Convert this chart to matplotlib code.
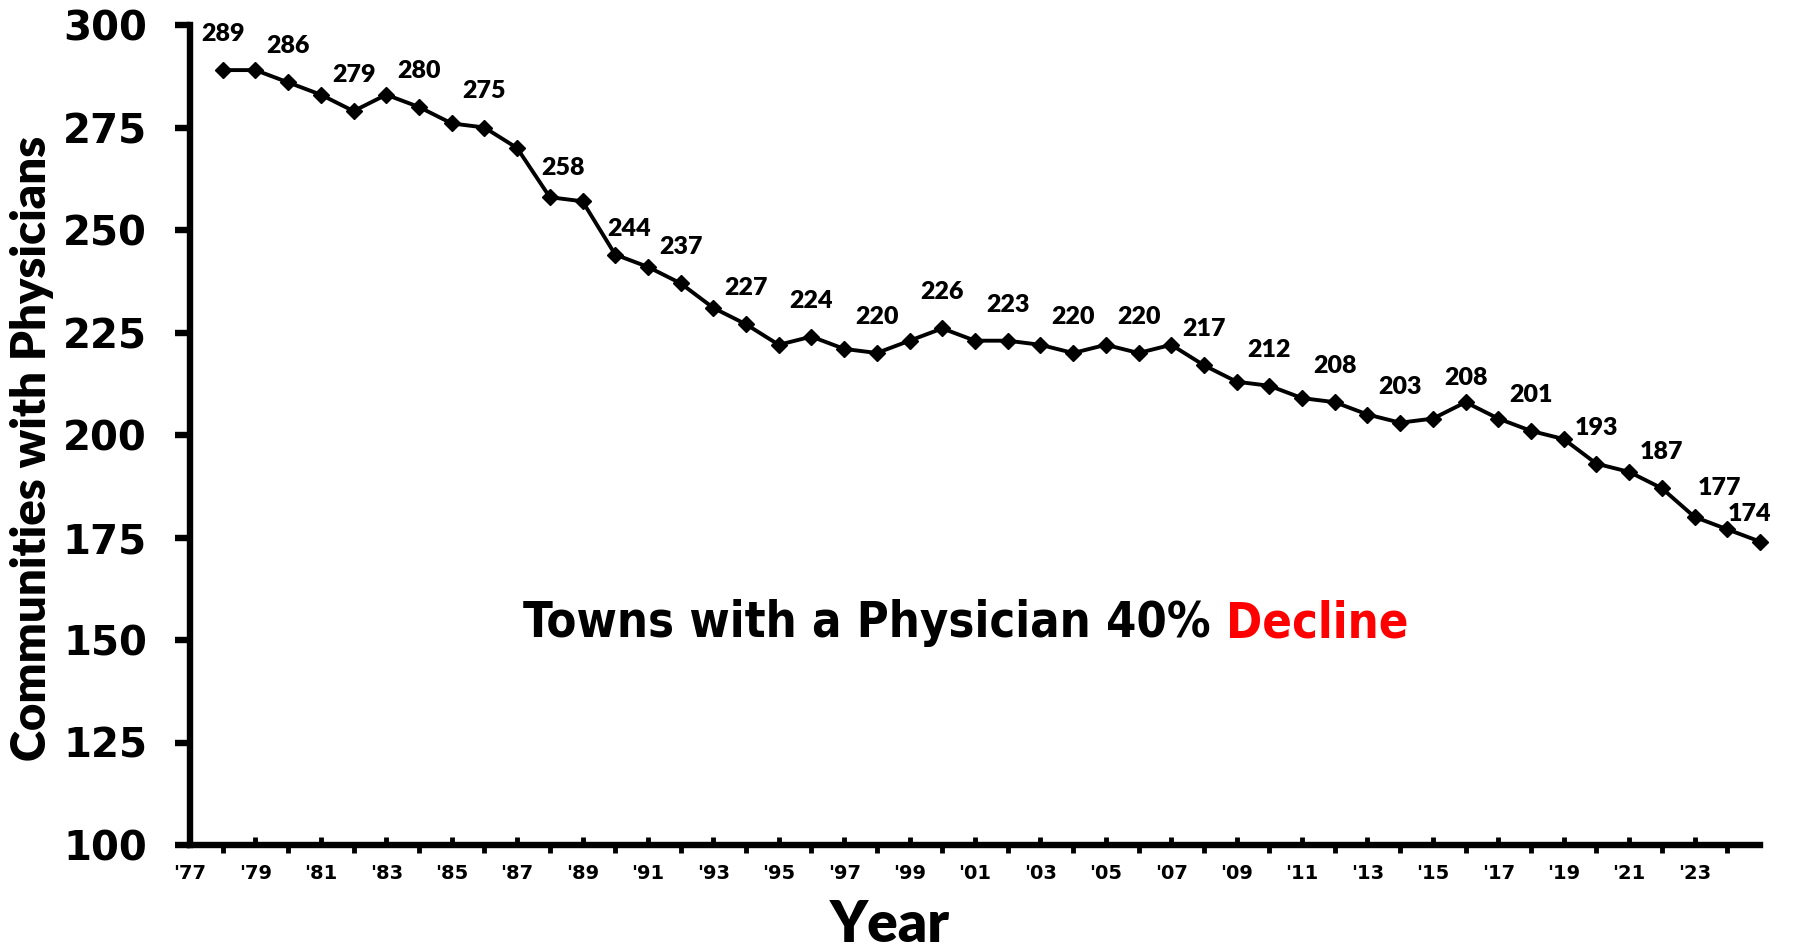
import matplotlib
matplotlib.use("Agg")
import matplotlib.pyplot as plt
from matplotlib import font_manager as fm
from matplotlib.ticker import FixedLocator, FixedFormatter

# ---------------- data ----------------
years = list(range(1978, 2026))
values = [289, 289, 286, 283, 279, 283, 280, 276, 275, 270,
          258, 257, 244, 241, 237, 231, 227, 222, 224, 221,
          220, 223, 226, 223, 223, 222, 220, 222, 220, 222,
          217, 213, 212, 209, 208, 205, 203, 204, 208, 204,
          201, 199, 193, 191, 187, 180, 177, 174]
label_years = list(range(1978, 2025, 2)) + [2025]
tick_years = list(range(1977, 2024, 2))
tick_labels = ["'%02d" % (y % 100) for y in tick_years]
y_ticks = list(range(100, 301, 25))
x_title = "Year"
y_title = "Communities with Physicians"
note_black = "Towns with a Physician 40%"
note_red = "Decline"

# per-label offsets in pixels (style only)
label_offsets = {1988: (13, 22), 1990: (14, 19), 2016: (0, 17),
                 2024: (-8, 34), 2025: (-10, 21)}
default_offset = (0, 29)

# ---------------- fonts ----------------
def pick(family, weights, stretch=None):
    for w in weights:
        for f in fm.fontManager.ttflist:
            if f.name == family and f.weight == w and \
                    (stretch is None or f.stretch == stretch):
                return fm.FontProperties(fname=f.fname)
    return None

fp_wide = fm.FontProperties(family="DejaVu Sans", weight="bold")
fp_cond = pick("DejaVu Sans", [700, "bold"], stretch="condensed") or fp_wide
fp_lato = pick("Lato", [800, 900, "heavy", "black", 700, "bold"]) or \
    fm.FontProperties(family="Lato", weight="bold")

# ---------------- figure ----------------
W, H = 1801, 951
fig = plt.figure(figsize=(W / 100, H / 100), dpi=100)
x0, x1 = 190, 1760
ytop, ybot = 25, 845
ax = fig.add_axes([x0 / W, 1 - ybot / H, (x1 - x0) / W, (ybot - ytop) / H])

ax.plot(years, values, color="black", lw=2.8, marker="D", ms=8.5,
        zorder=3, clip_on=False)

ax.set_xlim(1977, 2025)
ax.set_ylim(100, 300)
for s in ("top", "right"):
    ax.spines[s].set_visible(False)
for s in ("left", "bottom"):
    ax.spines[s].set_linewidth(4.6)
    ax.spines[s].set_color("black")

ax.set_yticks(y_ticks)
ax.tick_params(axis="y", direction="out", length=11, width=4.6, pad=20,
               labelsize=29)
for lbl in ax.get_yticklabels():
    lbl.set_fontproperties(fp_wide)
    lbl.set_fontsize(29)

ax.xaxis.set_major_locator(FixedLocator(tick_years))
ax.xaxis.set_major_formatter(FixedFormatter(tick_labels))
ax.xaxis.set_minor_locator(FixedLocator(list(range(1978, 2026, 2))))
ax.tick_params(axis="x", which="major", direction="in", length=5.5,
               width=3.5, pad=14)
ax.tick_params(axis="x", which="minor", direction="out", length=5.5,
               width=3.5)
for lbl in ax.get_xticklabels():
    lbl.set_fontproperties(fp_wide)
    lbl.set_fontsize(14)

# data labels
for yr in label_years:
    v = values[years.index(yr)]
    dx, dy = label_offsets.get(yr, default_offset)
    ax.annotate(str(v), (yr, v), xytext=(dx, dy), textcoords="offset pixels",
                ha="center", va="baseline", fontproperties=fp_lato,
                fontsize=18, annotation_clip=False, zorder=4)

# axis titles
fig.text(32 / W, 1 - 448 / H, y_title, rotation=90, ha="center", va="center",
         fontproperties=fp_lato, fontsize=34)
fig.text(890 / W, 9 / H, x_title, ha="center", va="baseline",
         fontproperties=fp_lato, fontsize=41)

# note in two colours
bx, by = 523, 637
t1 = fig.text(bx / W, 1 - by / H, note_black + " ", ha="left", va="baseline",
              fontproperties=fp_cond, fontsize=35, color="black")
renderer = fig.canvas.get_renderer()
w1 = t1.get_window_extent(renderer).width
fig.text((bx + w1) / W, 1 - by / H, note_red, ha="left", va="baseline",
         fontproperties=fp_cond, fontsize=35, color="#FF0000")

fig.savefig("out.png", dpi=100, facecolor="white")
